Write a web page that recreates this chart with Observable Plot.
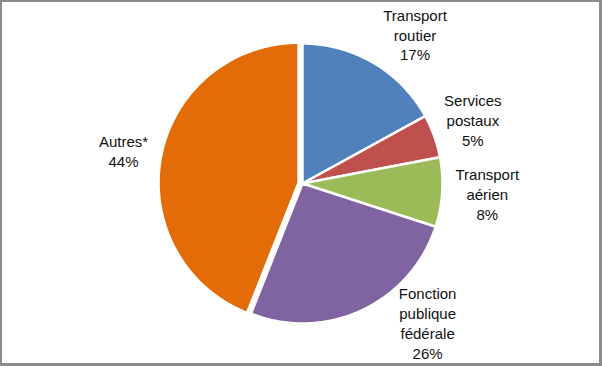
<!DOCTYPE html>
<html>
<head>
<meta charset="utf-8">
<script src="https://cdn.jsdelivr.net/npm/d3@7"></script>
<script src="https://cdn.jsdelivr.net/npm/@observablehq/plot@0.6"></script>
<style>
  html, body { margin: 0; padding: 0; background: #fff; }
  #wrap { position: relative; width: 602px; height: 366px; overflow: hidden; }
  #frame { position: absolute; left: 0; top: 0; width: 602px; height: 366px; box-sizing: border-box;
           border-left: 2px solid #8c8c8c; border-top: 2px solid #8c8c8c;
           border-right: 3px solid #8c8c8c; border-bottom: 3px solid #8c8c8c; pointer-events: none; }
</style>
</head>
<body>
<div id="wrap"><div id="frame"></div></div>
<script>
// ---- data ----
const categories = ["Transport routier", "Services postaux", "Transport aérien", "Fonction publique fédérale", "Autres*"];
const labelLines = [["Transport", "routier"], ["Services", "postaux"], ["Transport", "aérien"], ["Fonction", "publique", "fédérale"], ["Autres*"]];
const shares = [17, 5, 8, 26, 44];
const colors = ["#4F81BD", "#C0504D", "#9BBB59", "#8064A2", "#E36C09"];

// ---- layout ----
const W = 602, H = 366;
const cx = 302, cy = 183, R = 140;
const explode = [0, 0, 0, 0, 4];               // px offset of each slice along its mid-angle
const labelPolar = [[37, 187], [69.4, 182], [93, 185], [138, 187], [280.4, 182]]; // [deg, dist]

const pie = d3.pie().sort(null).value(d => d)(shares);
const pts = [];
pie.forEach((p, i) => {
  const mid = (p.startAngle + p.endAngle) / 2;
  const ox = cx + explode[i] * Math.sin(mid), oy = cy - explode[i] * Math.cos(mid);
  pts.push({name: categories[i], x: ox, y: oy});
  const n = Math.max(2, Math.ceil((p.endAngle - p.startAngle) * 60));
  for (let k = 0; k <= n; k++) {
    const a = p.startAngle + (p.endAngle - p.startAngle) * k / n;
    pts.push({name: categories[i], x: ox + R * Math.sin(a), y: oy - R * Math.cos(a)});
  }
});

const labels = categories.map((c, i) => {
  const [deg, dist] = labelPolar[i];
  const a = deg * Math.PI / 180;
  return {
    x: cx + dist * Math.sin(a),
    y: cy - dist * Math.cos(a),
    text: [...labelLines[i], shares[i] + "%"].join("\n")
  };
});

const chart = Plot.plot({
  width: W, height: H,
  margin: 0,
  x: {domain: [0, W], range: [0, W], axis: null},
  y: {domain: [0, H], range: [0, H], axis: null},
  color: {domain: categories, range: colors},
  style: {fontFamily: "'Liberation Sans', Arial, sans-serif", background: "#fff"},
  marks: [
    Plot.line(pts, {x: "x", y: "y", z: "name", fill: "name", stroke: "white", strokeWidth: 2.5,
                    strokeLinejoin: "round", curve: "linear-closed"}),
    Plot.text(labels, {x: "x", y: "y", text: "text", fontSize: 15, lineHeight: 1.33,
                       fill: "#111", textAnchor: "middle", lineAnchor: "middle"})
  ]
});
document.getElementById("wrap").insertBefore(chart, document.getElementById("frame"));
</script>
</body>
</html>
